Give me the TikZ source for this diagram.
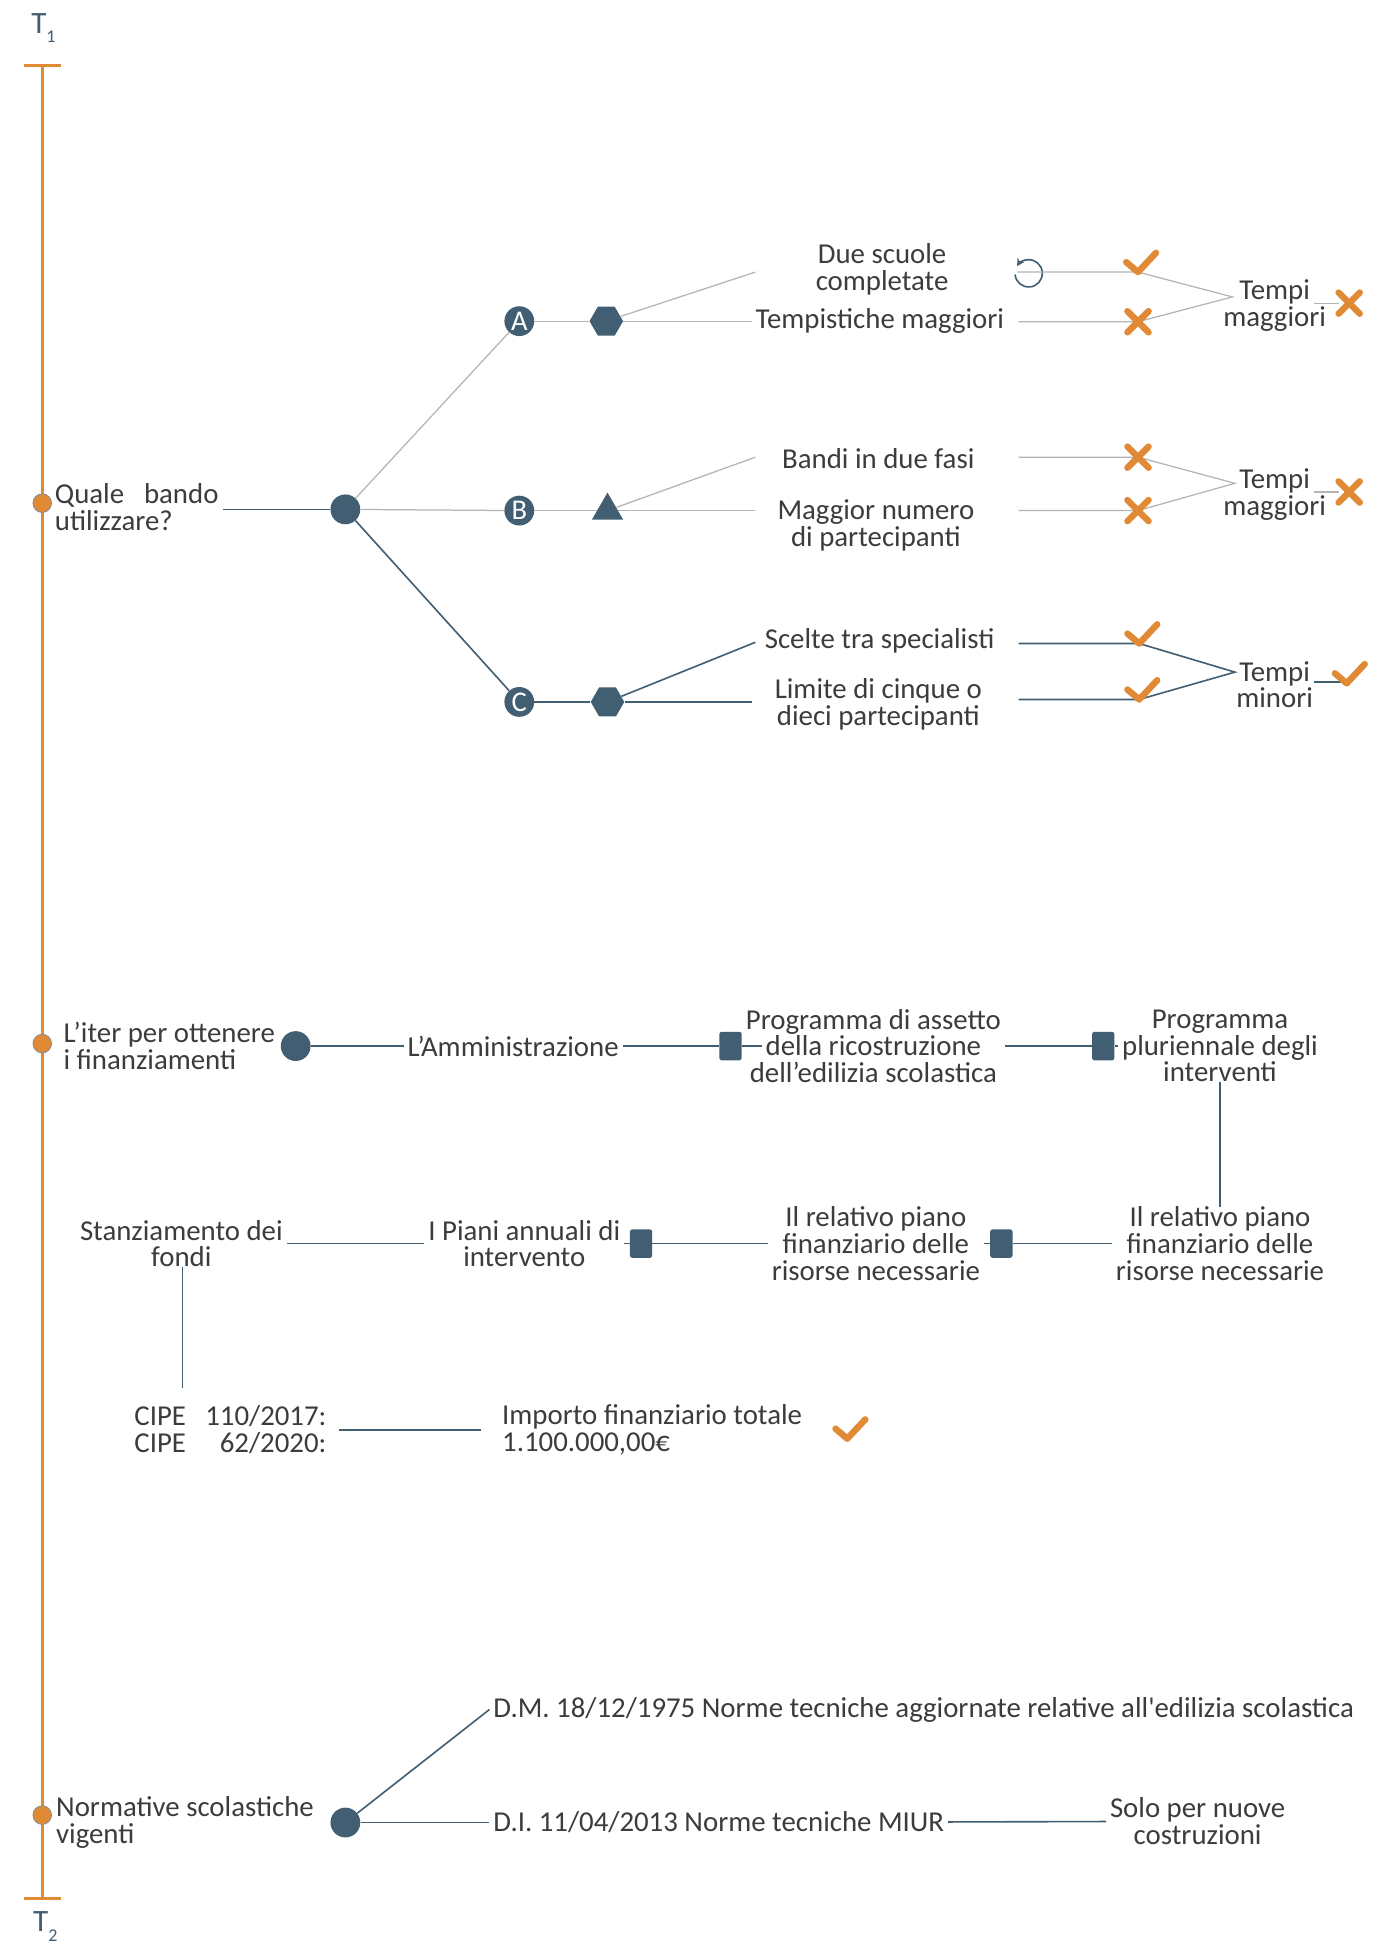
\documentclass[tikz,border=0pt]{standalone}
\usepackage{fontspec}
\setmainfont{Carlito}
\newfontfamily\plaincarl{Carlito}
\usetikzlibrary{shapes.geometric,arrows.meta}
\definecolor{dk}{HTML}{415E72}
\definecolor{org}{HTML}{E08A36}
\definecolor{gry}{HTML}{B4B4B4}
\definecolor{txc}{HTML}{3C3C3C}
\begin{document}
\begin{tikzpicture}[x=1pt,y=-1pt,
  txt/.style={font=\fontsize{23.2}{21.5}\selectfont, text=txc, inner sep=0pt, inner xsep=3pt, align=center},
  txl/.style={txt, align=left},
  abc/.style={circle, fill=dk, text=white, minimum size=24pt, inner sep=0pt, font=\fontsize{23}{23}\selectfont},
  bigdot/.style={circle, fill=dk, minimum size=24pt, inner sep=0pt},
  tdot/.style={circle, fill=org, draw=dk!70, line width=0.6pt, minimum size=15pt, inner sep=0pt},
  hexa/.style={regular polygon, regular polygon sides=6, fill=dk, minimum size=27pt, inner sep=0pt},
  tri/.style={regular polygon, regular polygon sides=3, fill=dk, minimum size=29pt, inner sep=0pt},
  sq/.style={rectangle, rounded corners=2pt, fill=dk, minimum width=18pt, minimum height=23pt, inner sep=0pt},
  gl/.style={draw=gry, line width=1pt},
  dl/.style={draw=dk, line width=1.3pt},
  tl/.style={draw=org, line width=2.2pt},
  chk/.pic={\draw[org, line width=5.2pt, line cap=round, line join=round] (-9.5,-8) -- (0,0) -- (14.5,-15.5);},
  crs/.pic={\draw[org, line width=5.2pt, line cap=round] (-8.5,-8.5) -- (8.5,8.5) (-8.5,8.5) -- (8.5,-8.5);},
  tlab/.style={text=dk, inner sep=0pt, anchor=base west, font=\fontsize{25}{25}\selectfont}
]
\useasboundingbox[fill=white] (0,0) rectangle (1120,1568);

% ---------------- timeline
\coordinate (tTop) at (34,53);
\coordinate (tBot) at (34,1528);
\coordinate (cap1l) at (19,53); \coordinate (cap1r) at (49,53);
\coordinate (cap2l) at (19,1528); \coordinate (cap2r) at (49,1528);
\draw[tl] (tTop) -- (tBot);
\draw[tl] (cap1l) -- (cap1r);
\draw[tl] (cap2l) -- (cap2r);
\node[tlab] (T1) at (25,26.7) {T\raisebox{-7.8pt}{\fontsize{14.5}{14.5}\selectfont 1}};
\node[tlab] (T2) at (26.5,1555) {T\raisebox{-7.8pt}{\fontsize{14.5}{14.5}\selectfont 2}};

\node[tdot] (d1) at (34,405) {};
\node[tdot] (d2) at (34,840) {};
\node[tdot] (d3) at (34,1461) {};

% ---------------- section 1
\node[txl, anchor=west] (tQ) at (41,408) {Quale\hspace{16pt}bando\\utilizzare?};
\node[bigdot] (D1) at (278,410) {};
\draw[dl] (tQ.east |- D1) -- (D1);

\node[abc] (A) at (418,258.5) {A};
\node[abc] (B) at (418,411) {B};
\node[abc] (C) at (418,565) {C};
\draw[gl] (D1) -- (A);
\draw[gl] (D1) -- (B);
\draw[dl] (D1) -- (C);

\node[hexa] (hA) at (488,258.5) {};
\node[tri] (tB) at (489,411) {};
\node[hexa] (hC) at (489,565) {};
\draw[gl] (A) -- (hA);
\draw[gl] (B) -- (tB);
\draw[dl] (C) -- (hC);

% row A
\coordinate (aU) at (608,219);
\node[txt] (tDue) at (710,217) {Due scuole\\completate};
\node[txt, anchor=west] (tTemp) at (605,258.5) {Tempistiche maggiori};
\draw[gl] (hA) -- (aU);
\draw[gl] (hA) -- (tTemp);

% row B
\coordinate (bU) at (608,368);
\coordinate (bL) at (608,411);
\node[txt] (tBandi) at (707,369) {Bandi in due fasi};
\node[txt] (tMagg) at (705,423) {Maggior numero\\di partecipanti};
\draw[gl] (tB) -- (bU);
\draw[gl] (tB) -- (bL);

% row C
\coordinate (cU) at (608,517);
\coordinate (cL) at (605,565);
\node[txt] (tScelte) at (708,516) {Scelte tra specialisti};
\node[txt] (tLim) at (707,567) {Limite di cinque o\\dieci partecipanti};
\draw[dl] (hC) -- (cU);
\draw[dl] (hC) -- (cL);

% right part A
\coordinate (rA) at (828,220);
\draw[dk, line width=1.3pt, -{Stealth[length=6pt,width=6.5pt]}] (rA) ++(-185:11) arc[start angle=-185, end angle=-508, radius=11];
\coordinate (sA1) at (819,219);
\coordinate (kA1) at (916,219);
\coordinate (sA2) at (820,259);
\coordinate (xA2) at (916,259);
\coordinate (jA) at (992,239);
\node[txt] (TmA) at (1026,246) {Tempi\\maggiori};
\coordinate (eA1) at (1058,244);
\coordinate (eA2) at (1078,244);
\draw[gl] (sA1) -- (kA1) -- (jA) -- (xA2) -- (sA2);
\draw[gl] (eA1) -- (eA2);
\pic at (kA1) {chk};
\pic at (xA2) {crs};
\pic at (1086,244) {crs};

% right part B
\coordinate (sB1) at (820,368);
\coordinate (xB1) at (916,368);
\coordinate (sB2) at (820,411);
\coordinate (xB2) at (916,411);
\coordinate (jB) at (994,389);
\node[txt] (TmB) at (1026,398) {Tempi\\maggiori};
\coordinate (eB1) at (1058,396);
\coordinate (eB2) at (1078,396);
\draw[gl] (sB1) -- (xB1) -- (jB) -- (xB2) -- (sB2);
\draw[gl] (eB1) -- (eB2);
\pic at (xB1) {crs};
\pic at (xB2) {crs};
\pic at (1086,396) {crs};

% right part C
\coordinate (sC1) at (820,518);
\coordinate (kC1) at (917,518);
\coordinate (sC2) at (820,563);
\coordinate (kC2) at (917,563);
\coordinate (jC) at (994,541);
\node[txt] (TmC) at (1026,551) {Tempi\\minori};
\coordinate (eC1) at (1058,549);
\coordinate (eC2) at (1082,549);
\draw[dl] (sC1) -- (kC1) -- (jC) -- (kC2) -- (sC2);
\draw[dl] (eC1) -- (eC2);
\pic at (kC1) {chk};
\pic at (kC2) {chk};
\pic at (1084,550) {chk};

% ---------------- section 2
\node[txl, anchor=west] (tIter) at (48,842) {L’iter per ottenere\\i finanziamenti};
\node[bigdot] (D2) at (238,842) {};
\node[txt] (tAmm) at (413,842) {L’Amministrazione};
\node[sq] (s1) at (588,842) {};
\node[txt] (tProg1) at (703,842) {Programma di assetto\\della ricostruzione\\dell’edilizia scolastica};
\node[sq] (s2) at (888,842) {};
\node[txt] (tProg2) at (982,842) {Programma\\pluriennale degli\\interventi};
\draw[dl] (D2) -- (tAmm);
\draw[dl] (tAmm) -- (s1);
\draw[dl] (s1.east) -- ++(16,0);
\draw[dl] (tProg1) -- (s2);
\draw[dl] (s2) -- (tProg2);

\node[txt] (tRel2) at (982,1001) {Il relativo piano\\finanziario delle\\risorse necessarie};
\node[sq] (s3) at (806,1001) {};
\node[txt] (tRel1) at (705,1001) {Il relativo piano\\finanziario delle\\risorse necessarie};
\node[sq] (s4) at (516,1001) {};
\node[txt] (tPiani) at (422,1001) {I Piani annuali di\\intervento};
\node[txt] (tStanz) at (146,1001) {Stanziamento dei\\fondi};
\draw[dl] (tProg2.south) -- (tRel2.north);
\draw[dl] (tRel2) -- (s3);
\draw[dl] (s3) -- (tRel1);
\draw[dl] (tRel1) -- (s4);
\draw[dl] (s4) -- (tPiani);
\draw[dl] (tPiani) -- (tStanz);

\node[txl, anchor=west] (tCipe) at (105,1151) {CIPE\makebox[113pt][r]{110/2017:}\\CIPE\makebox[113pt][r]{62/2020:}};
\node[txl, anchor=west] (tImp) at (401,1151) {Importo finanziario totale\\1.100.000,00€};
\coordinate (vS) at (147,1117);
\draw[dl] (tStanz.south -| vS) -- (vS);
\coordinate (cp1) at (273,1151);
\coordinate (cp2) at (387,1151);
\draw[dl] (cp1) -- (cp2);
\pic at (682,1158) {chk};

% ---------------- section 3
\node[txl, anchor=west] (tNorm) at (42,1467) {Normative scolastiche\\vigenti};
\node[bigdot] (D3) at (278,1467) {};
\node[txt, anchor=west] (tDM) at (394,1376) {D.M. 18/12/1975 Norme tecniche aggiornate relative all{\plaincarl '}edilizia scolastica};
\node[txt, anchor=west] (tDI) at (394,1467) {D.I. 11/04/2013 Norme tecniche MIUR};
\node[txt] (tSolo) at (964,1466) {Solo per nuove\\costruzioni};
\draw[dl] (D3) -- (tDM.west);
\draw[dl] (D3) -- (tDI);
\draw[dl] (tDI) -- (tSolo);
\end{tikzpicture}
\end{document}
